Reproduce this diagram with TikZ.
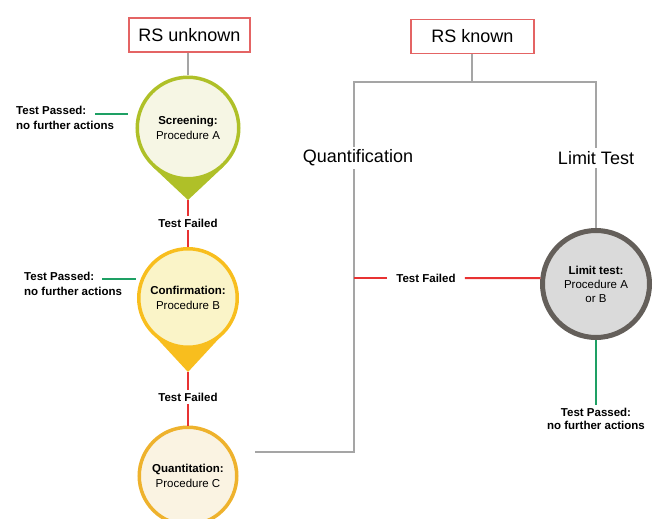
\documentclass[tikz,border=0pt]{standalone}
\usepackage{fontspec}
\setmainfont{Liberation Sans}
\definecolor{boxred}{RGB}{228,100,100}
\definecolor{linegray}{RGB}{165,165,165}
\definecolor{failred}{RGB}{232,50,50}
\definecolor{passgreen}{RGB}{30,160,100}
\definecolor{scrb}{RGB}{175,192,40}
\definecolor{scrf}{RGB}{246,246,228}
\definecolor{conb}{RGB}{248,190,30}
\definecolor{conf}{RGB}{250,244,200}
\definecolor{quab}{RGB}{238,178,45}
\definecolor{quaf}{RGB}{250,243,226}
\definecolor{limb}{RGB}{100,95,90}
\definecolor{limf}{RGB}{218,218,218}
\begin{document}
\begin{tikzpicture}[x=1pt,y=-1pt,
  box/.style={draw=boxred, line width=1.2pt, minimum height=34pt, font=\fontsize{18}{20}\selectfont, inner sep=0pt},
  lbl/.style={font=\fontsize{18}{20}\selectfont, inner sep=3pt},
  small/.style={font=\bfseries\fontsize{11.5}{14}\selectfont, align=center, inner sep=3pt},
  ball/.style={circle, inner sep=0pt, align=center, font=\fontsize{11.5}{15}\selectfont},
  conn/.style={draw=linegray, line width=1.2pt},
  fail/.style={draw=failred, line width=2pt},
  pass/.style={draw=passgreen, line width=2pt}]
\useasboundingbox (0,0) rectangle (656,519);
\clip (0,0) rectangle (656,519);

% boxes
\node[box, minimum width=121pt] (rsu) at (189.5,35) {RS unknown};
\node[box, minimum width=123pt] (rsk) at (472.5,36.5) {RS known};

% pins
\fill[scrb] (152.1,166.3) -- (188,200) -- (223.9,166.3) -- cycle;
\coordinate (scrtip) at (188,200);
\fill[conb] (152.1,333.2) -- (188,372) -- (223.9,333.2) -- cycle;
\coordinate (contip) at (188,372);

% circles
\node[ball, draw=scrb, fill=scrf, line width=3.5pt, minimum size=101.5pt] (scr) at (188,128) {\textbf{Screening:}\\Procedure A};
\node[ball, draw=conb, fill=conf, line width=3.5pt, minimum size=98.5pt] (con) at (188,298) {\textbf{Confirmation:}\\Procedure B};
\node[ball, draw=quab, fill=quaf, line width=3.5pt, minimum size=97.5pt] (qua) at (188,476) {\textbf{Quantitation:}\\Procedure C};
\node[ball, draw=limb, fill=limf, line width=5pt, minimum size=107pt, font=\fontsize{11.5}{14}\selectfont] (lim) at (596,284) {\textbf{Limit test:}\\Procedure A\\or B};

% labels
\node[lbl] (quant) at (358,158) {Quantification};
\node[lbl] (limt) at (596,158) {Limit Test};
\node[small] (tf1) at (188,223) {Test Failed};
\node[small] (tf2) at (188,397) {Test Failed};
\node[small, inner xsep=9pt] (tf3) at (426,278) {Test Failed};
\node[small, align=left, anchor=west, font=\bfseries\fontsize{11.5}{15.5}\selectfont] (tp1) at (13,118) {Test Passed:\\no further actions};
\node[small, align=left, anchor=west, font=\bfseries\fontsize{11.5}{15.5}\selectfont] (tp2) at (21,284) {Test Passed:\\no further actions};
\node[small, font=\bfseries\fontsize{11.5}{13.5}\selectfont] (tp3) at (596,419) {Test Passed:\\no further actions};

% gray connectors
\coordinate (j1) at (472,82);
\coordinate (jq) at (354,82);
\coordinate (jl) at (596,82);
\coordinate (q1) at (255,452);
\coordinate (q2) at (354,452);
\draw[conn] (scr.north |- rsu.south) -- (scr.north);
\draw[conn] (rsk.south -| j1) -- (j1);
\draw[conn] (quant.north -| jq) -- (jq) -- (jl) -- (limt.north -| jl);
\draw[conn] (limt.south -| lim.north) -- (lim.north);
\draw[conn] (q1) -- (q2) -- (quant.south -| q2);

% red connectors
\draw[fail] (scrtip) -- (tf1.north);
\draw[fail] (tf1.south) -- (con.north);
\draw[fail] (contip) -- (tf2.north);
\draw[fail] (tf2.south) -- (qua.north);
\coordinate (r1) at (354,278);
\draw[fail] (lim.174) -- (tf3.east);
\draw[fail] (tf3.west) -- (r1);

% green connectors
\coordinate (g1a) at (95,114);
\coordinate (g1b) at (128,114);
\coordinate (g2a) at (102,279);
\coordinate (g2b) at (136,279);
\draw[pass] (g1a) -- (g1b);
\draw[pass] (g2a) -- (g2b);
\draw[pass] (lim.south) -- (tp3.north);
\end{tikzpicture}
\end{document}
